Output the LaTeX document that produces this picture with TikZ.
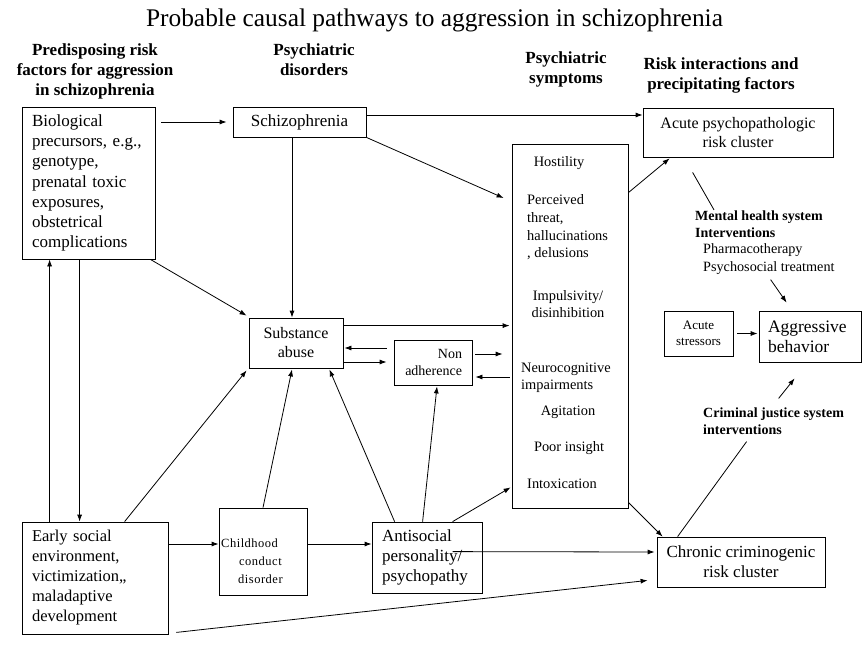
\documentclass[tikz,border=0pt]{standalone}
\usepackage{fontspec}
\setmainfont{Liberation Serif}
\newfontfamily\childfont{Liberation Serif}[LetterSpace=4]
\usetikzlibrary{arrows.meta,calc}
\newcommand{\fbig}{\fontsize{17}{20.3}\selectfont}
\newcommand{\fmid}{\fontsize{16}{19}\selectfont}
\newcommand{\fsym}{\fontsize{14.4}{17.7}\selectfont}
\newcommand{\fsmall}{\fontsize{14}{17}\selectfont}
\begin{document}
\begin{tikzpicture}[x=1pt,y=-1pt,
  bx/.style={draw, line width=0.8pt, inner sep=0pt, align=center},
  lbl/.style={inner sep=0pt, align=left},
  hdr/.style={inner sep=0pt, align=center, font=\bfseries\fontsize{17}{20}\selectfont},
  arr/.style={line width=0.8pt, -{Latex[length=7pt,width=5pt]}},
  ln/.style={line width=0.8pt}]
\useasboundingbox (0,0) rectangle (866,645);

% title and headers
\node[inner sep=0pt, font=\fontsize{25.4}{30}\selectfont] (title) at (434.5,20) {Probable causal pathways to aggression in schizophrenia};
\node[hdr] (h1) at (95,71) {Predisposing risk\\ factors for aggression\\ in schizophrenia};
\node[hdr] (h2) at (314,60) {Psychiatric\\ disorders};
\node[hdr] (h3) at (566,69) {Psychiatric\\ symptoms};
\node[hdr] (h4) at (721,75) {Risk interactions and\\ precipitating factors};

% boxes
\node[bx, minimum width=133, minimum height=152, text width=113, align=left, font=\fbig] (bio) at (88.5,183)
  {Biological\\ precursors, e.g.,\\ genotype,\\ prenatal toxic\\ exposures,\\ obstetrical\\ complications};
\node[bx, minimum width=133, minimum height=30, font=\fbig] (schizo) at (299.5,122) {Schizophrenia};
\node[bx, minimum width=190, minimum height=49, font=\fmid] (acute) at (738,132.5) {Acute psychopathologic\\ risk cluster};
\node[bx, minimum width=116, minimum height=364] (symp) at (570,326) {};
\node[bx, minimum width=94, minimum height=50, font=\fmid] (subst) at (296,343) {Substance\\ abuse};
\node[bx, minimum width=78, minimum height=45, text width=58, align=right, font=\fsmall] (nonadh) at (433,362.5) {Non\\ adherence};
\node[bx, minimum width=69, minimum height=45, font=\fontsize{13}{16}\selectfont] (stress) at (698.5,333.5) {Acute\\ stressors};
\node[bx, minimum width=102, minimum height=51, text width=84, align=left, font=\fontsize{17.5}{20}\selectfont] (aggr) at (810,336.5) {Aggressive\\ behavior};
\node[bx, minimum width=146, minimum height=112, text width=126, align=left, font=\fontsize{16.5}{20}\selectfont] (early) at (95,578)
  {Early social\\ environment,\\ victimization,,\\ maladaptive\\ development};
\node[bx, minimum width=88, minimum height=87] (child) at (263,551.5) {};
\node[lbl, anchor=west, font=\childfont\fontsize{12.5}{18}\selectfont] (childt) at (221,561) {Childhood\\\hspace*{18pt}conduct\\\hspace*{17pt}disorder};
\node[bx, minimum width=110, minimum height=71, text width=90, align=left, font=\fbig] (anti) at (427,557.5) {Antisocial\\ personality/\\ psychopathy};
\node[bx, minimum width=168, minimum height=50, font=\fbig] (chronic) at (741,562) {Chronic criminogenic\\ risk cluster};

% symptom list
\node[lbl, font=\fsym] (s1) at (559,163) {Hostility};
\node[lbl, anchor=west, font=\fsym] (s2) at (527,227.5) {Perceived\\ threat,\\ hallucinations\\ , delusions};
\node[inner sep=0pt, align=center, font=\fsym] (s3) at (568,304) {Impulsivity/\\ disinhibition};
\node[lbl, anchor=west, font=\fontsize{14.4}{16.5}\selectfont] (s4) at (521,378) {Neurocognitive\\ impairments};
\node[lbl, font=\fsym] (s5) at (568,412) {Agitation};
\node[lbl, font=\fsym] (s6) at (569,448) {Poor insight};
\node[lbl, font=\fsym] (s7) at (562,484) {Intoxication};

% intervention labels
\node[lbl, anchor=west, font=\bfseries\fontsize{14}{17}\selectfont] (mh) at (695,224.5) {Mental health system\\ Interventions};
\node[lbl, anchor=west, font=\fontsize{14.2}{18}\selectfont] (pt) at (703,259) {Pharmacotherapy\\ Psychosocial treatment};
\node[lbl, anchor=west, font=\bfseries\fontsize{14}{17}\selectfont] (cj) at (703,421.5) {Criminal justice system\\ interventions};

% connectors
\draw[arr] ($(bio.east|-schizo.west)+(6,0)$) -- ($(schizo.west)+(-6,0)$);
\draw[arr] ($(schizo.east)+(0,-7)$) -- ($(acute.west)+(0,-17.5)$);
\draw[arr] (schizo.south east) -- ($(symp.west)+(-8,-128)$);
\draw[arr] ($(schizo.south)+(-7.5,0)$) -- ($(subst.north)+(-4,0)$);
\draw[arr] ($(bio.south east)+(-5,0)$) -- ($(subst.north west)+(-2,-2)$);
\draw[arr] ($(early.north west)+(28,0)$) -- ($(bio.south west)+(28,0)$);
\draw[arr] ($(bio.south west)+(58,0)$) -- ($(early.north west)+(58,0)$);
\draw[arr] ($(early.north west)+(103,0)$) -- ($(subst.south west)+(-2,2)$);
\draw[arr] (child.north) -- ($(subst.south)+(-4,1)$);
\draw[arr] ($(anti.north west)+(23,0)$) -- ($(subst.south east)+(-14,1)$);
\draw[arr] ($(anti.north west)+(51,0)$) -- ($(nonadh.south)+(4,1)$);
\draw[arr] ($(early.east|-child.west)+(0,-7.5)$) -- ($(child.west)+(0,-7.5)$);
\draw[arr] ($(child.east)+(0,-7.5)$) -- ($(anti.west|-child.west)+(0,-7.5)$);
\draw[arr] ($(anti.north west)+(81,0)$) -- ($(symp.south west)+(-1,-21)$);
\draw[arr] ($(anti.north west)+(81,30)$) -- ($(chronic.west)+(-2,-10)$);
\draw[arr] ($(early.south east)+(8,-2)$) -- ($(chronic.south west)+(-9,-7)$);
\draw[arr] ($(symp.south east)+(0,-6)$) -- ($(chronic.north west)+(6,0)$);
\draw[arr] ($(symp.north east)+(0,49)$) -- ($(acute.south west)+(27,1)$);
\draw[ln] ($(acute.south west)+(50,15)$) -- ($(mh.north west)+(19,-1)$);
\draw[arr] ($(aggr.north west)+(12,-31)$) -- ($(aggr.north west)+(28,-8)$);
\draw[arr] ($(stress.east)+(4,0)$) -- ($(aggr.west|-stress.east)+(-1,0)$);
\draw[arr] ($(aggr.south west)+(20,36)$) -- ($(aggr.south west)+(36,16)$);
\draw[ln] ($(chronic.north west)+(21,0)$) -- ($(chronic.north west)+(90,-95)$);
\draw[arr] ($(subst.north east)+(0,8)$) -- ($(symp.west|-subst.north east)+(-2,8)$);
\draw[arr] ($(nonadh.west)+(-7,-14.5)$) -- ($(subst.east|-nonadh.west)+(1,-14.5)$);
\draw[arr] ($(subst.east|-nonadh.west)+(1,-0.5)$) -- ($(nonadh.west)+(-7,-0.5)$);
\draw[arr] ($(nonadh.east)+(3,-8.5)$) -- ($(symp.west|-nonadh.east)+(-9,-8.5)$);
\draw[arr] ($(symp.west|-nonadh.east)+(-2,14.5)$) -- ($(nonadh.east)+(3,14.5)$);
\end{tikzpicture}
\end{document}
